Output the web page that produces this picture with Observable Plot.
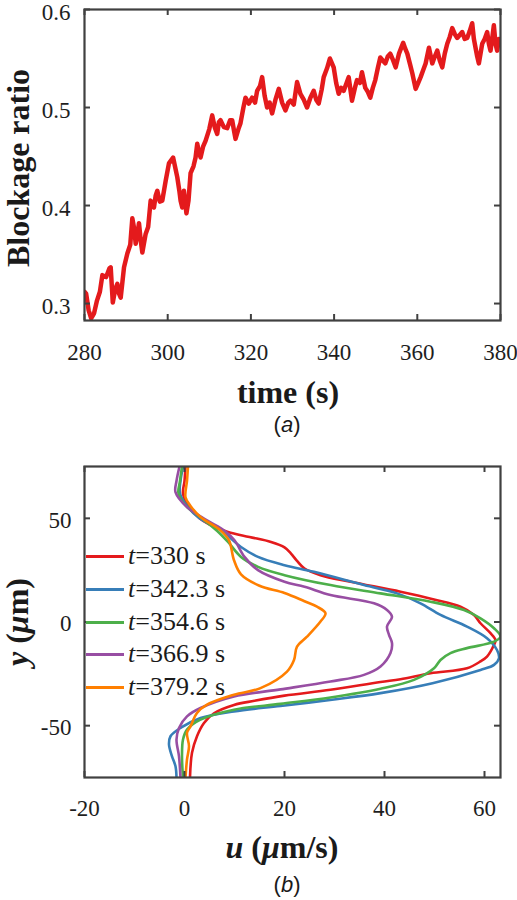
<!DOCTYPE html>
<html><head><meta charset="utf-8">
<script src="https://cdn.jsdelivr.net/npm/d3@7"></script>
<script src="https://cdn.jsdelivr.net/npm/@observablehq/plot@0.6"></script>
<style>
body{margin:0;background:#fff;}
#fig{position:relative;width:517px;height:900px;font-family:'Liberation Serif','DejaVu Serif',serif;color:#1a1a1a;overflow:hidden;}
.lab{position:absolute;white-space:nowrap;transform:translate(-50%,-50%);line-height:1;}
.bold{font-weight:bold;font-size:32px;}
.cap{font-family:'Liberation Sans',Arial,sans-serif;font-size:22px;}
.leg{position:absolute;left:0;width:260px;height:30px;}
.leg .ln{position:absolute;left:86px;width:38px;height:3px;top:14px;}
.leg .tx{position:absolute;left:128px;top:0;font-size:26px;line-height:30px;white-space:nowrap;}
</style></head>
<body><div id="fig"></div>
<script>
// ---- panel (a): blockage ratio vs time ----
const blockTime = [280.0,280.4,281.0,281.6,282.3,283.0,283.7,284.3,285.2,286.0,286.3,286.8,287.4,287.9,288.3,288.7,289.5,290.3,291.0,291.5,292.0,292.3,292.7,293.1,293.5,293.9,294.7,295.3,295.9,296.3,296.7,297.1,297.5,298.1,298.7,299.5,300.3,301.3,302.3,302.8,303.1,303.5,303.9,304.5,305.0,305.5,306.2,306.7,307.1,307.5,307.9,308.5,309.1,310.0,310.7,311.3,311.9,312.3,312.7,313.5,314.3,315.0,315.5,316.0,316.3,317.0,317.5,318.2,318.7,319.5,320.3,321.0,321.5,322.2,322.7,323.3,323.9,324.5,325.1,325.9,326.7,327.5,328.3,329.0,329.5,330.3,331.1,331.9,332.7,333.5,334.3,335.1,335.7,336.3,337.0,337.5,338.3,339.0,339.9,340.5,341.1,341.7,342.3,343.0,343.5,344.3,345.0,345.5,346.2,346.7,347.5,348.1,348.7,349.3,349.9,350.5,351.1,351.7,352.3,352.9,353.5,354.2,354.8,355.6,356.6,357.1,357.6,358.2,358.8,359.6,360.2,360.8,361.4,362.0,362.8,363.6,364.2,364.8,365.4,366.0,366.6,367.2,367.8,368.4,369.0,369.6,370.2,370.8,371.4,372.0,372.6,373.2,373.6,374.0,374.4,374.8,375.2,375.6,376.2,376.8,377.2,377.6,378.0,378.4,378.8,379.2,379.6,380.0];
const blockRatio = [0.312,0.310,0.293,0.285,0.290,0.303,0.312,0.329,0.327,0.336,0.337,0.301,0.315,0.320,0.310,0.306,0.337,0.351,0.360,0.387,0.375,0.361,0.370,0.382,0.365,0.352,0.371,0.378,0.405,0.400,0.398,0.410,0.415,0.404,0.405,0.425,0.443,0.449,0.429,0.415,0.405,0.398,0.415,0.392,0.405,0.433,0.440,0.449,0.463,0.455,0.449,0.460,0.466,0.478,0.492,0.480,0.473,0.485,0.487,0.480,0.479,0.487,0.487,0.475,0.468,0.478,0.484,0.500,0.510,0.504,0.510,0.505,0.517,0.522,0.531,0.512,0.500,0.505,0.494,0.508,0.519,0.505,0.497,0.505,0.507,0.503,0.526,0.514,0.508,0.500,0.510,0.517,0.508,0.504,0.518,0.531,0.540,0.550,0.541,0.525,0.514,0.520,0.517,0.525,0.531,0.507,0.520,0.528,0.525,0.536,0.520,0.516,0.510,0.520,0.528,0.540,0.551,0.548,0.545,0.552,0.555,0.548,0.541,0.555,0.566,0.560,0.555,0.545,0.535,0.519,0.525,0.531,0.538,0.545,0.561,0.545,0.552,0.558,0.548,0.541,0.555,0.565,0.572,0.581,0.575,0.571,0.574,0.577,0.570,0.571,0.578,0.586,0.570,0.561,0.552,0.545,0.555,0.565,0.570,0.577,0.565,0.558,0.570,0.584,0.565,0.558,0.570,0.568];
const timeTicks = [280, 300, 320, 340, 360, 380];
const ratioTicks = [0.3, 0.4, 0.5, 0.6];

// ---- panel (b): velocity profiles ----
const seriesNames = ["330", "342.3", "354.6", "366.9", "379.2"];
const seriesColors = ["#e41a1c", "#377eb8", "#4daf4a", "#984ea3", "#ff7f00"];
const u330 = [0.2,0.0,-0.3,0.8,3.0,5,8.7,13,17.3,20,21.3,22.5,24,27.2,33.2,43.2,49.9,55.2,57.9,59.2,61.2,62.2,61.9,60.5,59.2,56.5,49.2,43.2,39.2,29.2,20,14,9.9,5.9,3.9,2.5,1.5,1.1];
const y330 = [75,68,62,56,50,47,43.4,41,38.6,36,33,29.5,25.8,22.6,19.4,14.6,10.9,7.4,3.4,-0.6,-5.4,-8.7,-11,-16.7,-19,-22.3,-24.7,-27.6,-28.9,-32.7,-35.5,-38,-40,-44,-48.7,-55.1,-63.1,-75];
const u342 = [-0.3,-0.8,-0.9,0.5,3,6,8,9.3,11.3,14.7,20,25.9,35.9,42.5,47.2,51.2,56.5,60.5,62.5,62.9,61.9,59.2,49.6,39.2,29.5,19.2,9.9,3.2,-0.8,-2.8,-3.1,-2.5,-1.8,-1.6];
const y342 = [75,68,62,56,50,46,43.4,40.2,36.2,31.4,27.4,24.2,17.8,13.8,9,3.4,-2.2,-7.8,-13.5,-17.5,-20.7,-23.1,-29.5,-34.3,-37.5,-40.5,-43.1,-46.3,-51.1,-55.1,-59.1,-64.8,-69.6,-75];
const u354 = [-0.5,-0.9,-1.2,0.3,3.5,6.5,8.7,11.3,14.7,20,29.2,39.2,49.2,55.9,59.2,61.9,63.2,61.9,56.5,53.2,51.2,49.9,45.9,39.2,29.2,19.2,9.9,3.2,0.5,-0.3,-0.5,-0.3];
const y354 = [75,68,62,56,50,44,38.6,31.4,26.6,22.6,17.8,13.8,9.8,5.8,1.8,-3.0,-7.1,-9.5,-12.6,-15.0,-18.3,-22.3,-27.9,-32.2,-36.4,-39.5,-42.3,-47.1,-51.9,-56.7,-64.8,-75];
const u366 = [-1.0,-1.6,-1.8,0.5,4.5,8,10,12,14.7,20,24,29.2,37.9,40.5,41.5,40.5,40.9,41.5,41.2,39.2,35.9,29.2,19.2,9.9,3.2,0.5,-1.1,-1.6,-1.1,-0.8];
const y366 = [75,68,62.6,55.4,49,44,39.4,31.4,25,19.4,17,13,9,5.8,2.5,-2.2,-6.2,-10.2,-15.0,-21.5,-25.5,-28.7,-32.5,-35.9,-41.5,-45.5,-51.1,-56.7,-64.8,-75];
const u379 = [0.7,0.5,0.2,1.2,3.2,7.2,8.9,9.9,11.3,15,20,24,26.5,28.2,27.2,24.5,22.5,21.9,20.5,15.2,9.9,4.5,2.5,1.2,0.5,0.9,0.5,0.2];
const y379 = [75,68,60.2,56,50.6,44.2,39.4,29.8,23,17.5,14,10,7.4,4.2,0.2,-7.1,-11.9,-18.3,-23.9,-31.9,-35.1,-39.9,-43.9,-50.3,-53.5,-59.9,-66.3,-75];
const uTicks = [-20, 0, 20, 40, 60];
const yTicks = [-50, 0, 50];

const fig = document.getElementById("fig");
const font = "Liberation Serif";
const frameCol = "#404040";
const tickFont = {fontFamily: font, fontSize: 23, fill: "#1e1e1e"};
const plain = d => String(d);

// panel a
const blockData = blockTime.map((t, i) => ({t, r: blockRatio[i]}));
const wA = 517, hA = 440, mlA = 84, mrA = 17, mtA = 9, mbA = 120;
const fwA = wA - mlA - mrA, fhA = hA - mtA - mbA;
const chartA = Plot.plot({
  width: wA, height: hA, marginLeft: mlA, marginRight: mrA, marginTop: mtA, marginBottom: mbA,
  x: {domain: [280, 380]},
  y: {domain: [0.2827, 0.6]},
  style: "font-family:'Liberation Serif',serif;background:transparent;position:absolute;top:0px;left:0px;overflow:visible;",
  marks: [
    Plot.line(blockData, {x: "t", y: "r", stroke: "#e41a1c", strokeWidth: 4.5, clip: true}),
    Plot.tickX(timeTicks, {x: d => d, insetTop: fhA - 6, stroke: frameCol, strokeWidth: 2}),
    Plot.tickX(timeTicks, {x: d => d, insetBottom: fhA - 6, stroke: frameCol, strokeWidth: 2}),
    Plot.tickY(ratioTicks, {y: d => d, insetRight: fwA - 6, stroke: frameCol, strokeWidth: 2}),
    Plot.tickY(ratioTicks, {y: d => d, insetLeft: fwA - 6, stroke: frameCol, strokeWidth: 2}),
    Plot.frame({stroke: frameCol, strokeWidth: 2.2}),
    Plot.axisX(timeTicks, {tickSize: 0, tickPadding: 23, label: null, tickFormat: plain, ...tickFont}),
    Plot.axisY(ratioTicks, {tickSize: 0, tickPadding: 14, dy: 3, label: null, tickFormat: d3.format(".1f"), ...tickFont})
  ]
});
fig.appendChild(chartA);

// panel b
const profiles = [];
[[u330, y330], [u342, y342], [u354, y354], [u366, y366], [u379, y379]].forEach(([us, ys], k) => {
  us.forEach((u, i) => profiles.push({s: seriesNames[k], u, y: ys[i]}));
});
const wB = 517, hB = 400, mlB = 84, mrB = 17, mtB = 26, mbB = 63;
const fwB = wB - mlB - mrB, fhB = hB - mtB - mbB;
const chartB = Plot.plot({
  width: wB, height: hB, marginLeft: mlB, marginRight: mrB, marginTop: mtB, marginBottom: mbB,
  x: {domain: [-20, 63.2]},
  y: {domain: [-75, 75]},
  color: {domain: seriesNames, range: seriesColors},
  style: "font-family:'Liberation Serif',serif;background:transparent;position:absolute;top:440px;left:0px;overflow:visible;",
  marks: [
    Plot.line(profiles, {x: "u", y: "y", z: "s", stroke: "s", strokeWidth: 2.6, curve: "catmull-rom", clip: true}),
    Plot.tickX(uTicks, {x: d => d, insetTop: fhB - 6, stroke: frameCol, strokeWidth: 2}),
    Plot.tickX(uTicks, {x: d => d, insetBottom: fhB - 6, stroke: frameCol, strokeWidth: 2}),
    Plot.tickY(yTicks, {y: d => d, insetRight: fwB - 6, stroke: frameCol, strokeWidth: 2}),
    Plot.tickY(yTicks, {y: d => d, insetLeft: fwB - 6, stroke: frameCol, strokeWidth: 2}),
    Plot.frame({stroke: frameCol, strokeWidth: 2.2}),
    Plot.axisX(uTicks, {tickSize: 0, tickPadding: 22, label: null, tickFormat: plain, ...tickFont}),
    Plot.axisY(yTicks, {tickSize: 0, tickPadding: 13, dy: 2, label: null, tickFormat: plain, ...tickFont})
  ]
});
fig.appendChild(chartB);

// text labels
function addLab(html, x, y, cls, rot) {
  const d = document.createElement("div");
  d.className = "lab " + (cls || "");
  d.innerHTML = html;
  d.style.left = x + "px";
  d.style.top = y + "px";
  if (rot) d.style.transform = "translate(-50%,-50%) rotate(-90deg)";
  fig.appendChild(d);
}
addLab("Blockage ratio", 18, 168, "bold", true);
addLab("time (s)", 288, 392, "bold");
addLab("(<i>a</i>)", 287, 425, "cap");
addLab("<i>y</i> (<i>μ</i>m)", 17, 622, "bold", true);
addLab("<i>u</i> (<i>μ</i>m/s)", 282, 847, "bold");
addLab("(<i>b</i>)", 287, 885, "cap");

// legend
const legY = [556, 589, 622, 654, 687];
seriesNames.forEach((s, k) => {
  const e = document.createElement("div");
  e.className = "leg";
  e.style.top = (legY[k] - 15) + "px";
  e.innerHTML = `<div class="ln" style="background:${seriesColors[k]}"></div><div class="tx"><i>t</i>=${s} s</div>`;
  fig.appendChild(e);
});
</script>
</body></html>
